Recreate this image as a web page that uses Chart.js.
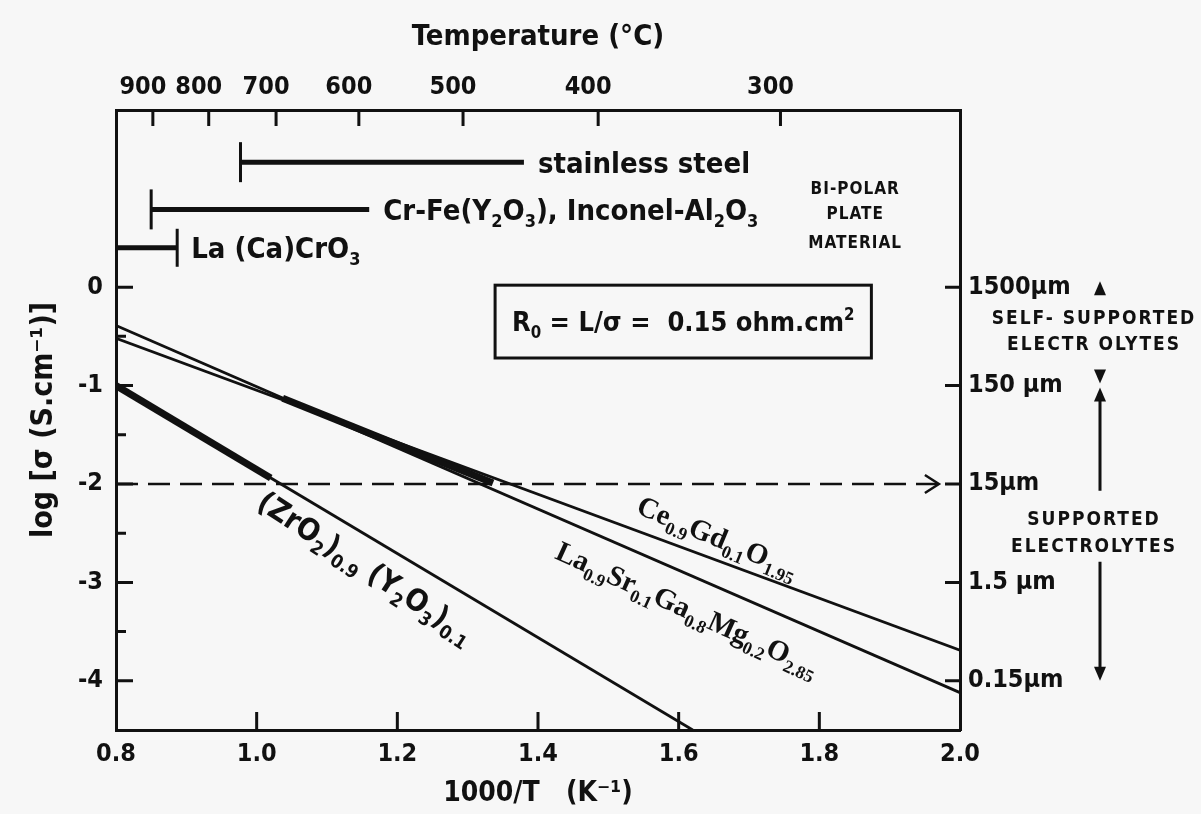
<!DOCTYPE html>
<html>
<head>
<meta charset="utf-8">
<script src="https://cdn.jsdelivr.net/npm/chart.js@4.4.1/dist/chart.umd.min.js"></script>
<style>
  html, body { margin: 0; padding: 0; background: #f7f7f7; }
</style>
</head>
<body>
<canvas id="chart" width="1201" height="814"></canvas>
<script>
// axes
const xTicks = [0.8, 1.0, 1.2, 1.4, 1.6, 1.8, 2.0];
const yTicks = [-4, -3, -2, -1, 0];
const yMinorTicks = [-3.5, -2.5, -1.5, -0.5];
const topTemps = [900, 800, 700, 600, 500, 400, 300];
const thicknessLabels = ['0.15µm', '1.5 µm', '15µm', '150 µm', '1500µm'];

// conductivity lines, log sigma vs 1000/T
const yszX = [0.8, 1.62];
const yszY = [-1.0, -4.5];
const yszThickX = [0.8, 1.02];
const yszThickY = [-1.0, -1.94];
const cgoX = [0.8, 2.0];
const cgoY = [-0.52, -3.69];
const lsgmX = [0.8, 2.0];
const lsgmY = [-0.39, -4.12];
const overlapX = [1.037, 1.336];
const overlapY = [-1.13, -1.99];
const targetX = [0.8, 1.97];
const targetY = [-2, -2];

// bi-polar plate materials
const plateNames = ['stainless steel', 'Cr-Fe(Y_{2}O_{3}), Inconel-Al_{2}O_{3}', 'La (Ca)CrO_{3}'];
const plateFrom = [0.977, 0.85, 0.8];
const plateTo = [1.38, 1.16, 0.887];
const plateLevel = [1.27, 0.79, 0.40];

const ink = '#111';
const SANS = "'DejaVu Sans Condensed', 'Liberation Sans Narrow', 'DejaVu Sans', sans-serif";
const SERIF = "'Liberation Serif', 'DejaVu Serif', serif";
const tickFont = { family: SANS, size: 25, weight: 'bold' };

function pts(xs, ys) {
  return xs.map((v, i) => ({ x: v, y: ys[i] }));
}

function lineSet(xs, ys, width, extra) {
  return Object.assign({
    data: pts(xs, ys),
    borderColor: ink,
    borderWidth: width,
    pointRadius: 0,
    tension: 0,
    fill: false
  }, extra || {});
}

const datasets = [
  lineSet(yszX, yszY, 2.8),
  lineSet(yszThickX, yszThickY, 7),
  lineSet(cgoX, cgoY, 2.8),
  lineSet(lsgmX, lsgmY, 2.8),
  lineSet(overlapX, overlapY, 7),
  lineSet(targetX, targetY, 2.5, { borderDash: [22, 10] })
];

const capAtEnd = [false, false, true];
plateNames.forEach((n, i) => {
  datasets.push(lineSet([plateFrom[i], plateTo[i]], [plateLevel[i], plateLevel[i]], 5, {
    pointRadius: capAtEnd[i] ? [0, 19] : [20, 0],
    pointStyle: 'line',
    rotation: 90,
    pointBorderWidth: 3,
    pointBorderColor: ink,
    pointBackgroundColor: ink
  }));
});

function parseRich(str) {
  const parts = [];
  const re = /([_^])\{([^}]*)\}/g;
  let last = 0, m;
  while ((m = re.exec(str))) {
    if (m.index > last) parts.push({ t: str.slice(last, m.index), mode: '' });
    parts.push({ t: m[2], mode: m[1] });
    last = re.lastIndex;
  }
  if (last < str.length) parts.push({ t: str.slice(last), mode: '' });
  return parts;
}

function drawRich(ctx, str, x, y, opt) {
  const size = opt.size;
  const parts = parseRich(str);
  ctx.save();
  ctx.translate(x, y);
  ctx.rotate(opt.angle || 0);
  ctx.fillStyle = ink;
  ctx.textBaseline = 'alphabetic';
  ctx.textAlign = 'left';
  if (opt.spacing) ctx.letterSpacing = opt.spacing;
  let total = 0;
  parts.forEach(p => {
    p.s = p.mode ? size * 0.62 : size;
    ctx.font = 'bold ' + p.s + 'px ' + opt.family;
    p.w = ctx.measureText(p.t).width;
    total += p.w;
  });
  let cx = opt.align === 'center' ? -total / 2 : 0;
  const base = size * 0.36;
  parts.forEach(p => {
    ctx.font = 'bold ' + p.s + 'px ' + opt.family;
    const dy = p.mode === '_' ? size * 0.24 : (p.mode === '^' ? -size * 0.42 : 0);
    ctx.fillText(p.t, cx, base + dy);
    cx += p.w;
  });
  ctx.restore();
}

function tri(ctx, x, tipY, dir, w, h) {
  ctx.beginPath();
  ctx.moveTo(x, tipY);
  ctx.lineTo(x - w, tipY - dir * h);
  ctx.lineTo(x + w, tipY - dir * h);
  ctx.closePath();
  ctx.fill();
}

const extras = {
  id: 'extras',
  afterDraw(chart) {
    const { ctx, chartArea: a, scales } = chart;
    const x = scales.x, y = scales.y, x2 = scales.x2;
    ctx.save();
    ctx.strokeStyle = ink;
    ctx.fillStyle = ink;
    ctx.lineWidth = 3;
    ctx.lineCap = 'butt';

    // inward tick marks
    ctx.beginPath();
    xTicks.slice(1, -1).forEach(v => {
      const px = x.getPixelForValue(v);
      ctx.moveTo(px, a.bottom); ctx.lineTo(px, a.bottom - 18);
    });
    x2.ticks.forEach(t => {
      const px = x2.getPixelForValue(t.value);
      ctx.moveTo(px, a.top); ctx.lineTo(px, a.top + 16);
    });
    yTicks.forEach(v => {
      const py = y.getPixelForValue(v);
      ctx.moveTo(a.left, py); ctx.lineTo(a.left + 17, py);
      ctx.moveTo(a.right, py); ctx.lineTo(a.right - 15, py);
    });
    yMinorTicks.forEach(v => {
      const py = y.getPixelForValue(v);
      ctx.moveTo(a.left, py); ctx.lineTo(a.left + 10, py);
    });
    ctx.stroke();

    // arrow head on the dashed 15 µm line
    const tx = x.getPixelForValue(targetX[1]), ty = y.getPixelForValue(targetY[1]);
    ctx.lineWidth = 2.5;
    ctx.beginPath();
    ctx.moveTo(tx - 14, ty - 9); ctx.lineTo(tx, ty); ctx.lineTo(tx - 14, ty + 9);
    ctx.stroke();

    // R0 box
    const bx1 = x.getPixelForValue(1.339), bx2 = x.getPixelForValue(1.874);
    const by1 = y.getPixelForValue(0.02), by2 = y.getPixelForValue(-0.72);
    ctx.lineWidth = 3;
    ctx.strokeRect(bx1, by1, bx2 - bx1, by2 - by1);
    drawRich(ctx, 'R_{0} = L/σ =  0.15 ohm.cm^{2}', (bx1 + bx2) / 2, (by1 + by2) / 2,
      { size: 27, family: SANS, align: 'center' });

    // plate material labels
    plateNames.forEach((n, i) => {
      drawRich(ctx, n, x.getPixelForValue(plateTo[i]) + 14, y.getPixelForValue(plateLevel[i]),
        { size: 29, family: SANS });
    });
    ['BI-POLAR', 'PLATE', 'MATERIAL'].forEach((t, i) => {
      drawRich(ctx, t, x.getPixelForValue(1.851), y.getPixelForValue([1.007, 0.753, 0.458][i]),
        { size: 17, family: SANS, align: 'center', spacing: '1px' });
    });

    // line labels, rotated along the lines
    const ang = (xs, ys) => Math.atan2(y.getPixelForValue(ys[1]) - y.getPixelForValue(ys[0]),
      x.getPixelForValue(xs[1]) - x.getPixelForValue(xs[0]));
    drawRich(ctx, '(ZrO_{2})_{0.9} (Y_{2}O_{3})_{0.1}', x.getPixelForValue(1.156), y.getPixelForValue(-2.84),
      { size: 30, family: SANS, align: 'center', angle: ang(yszX, yszY) + 0.04 });
    drawRich(ctx, 'Ce_{0.9}Gd_{0.1}O_{1.95}', x.getPixelForValue(1.656), y.getPixelForValue(-2.53),
      { size: 29, family: SERIF, align: 'center', angle: ang(cgoX, cgoY) + 0.04 });
    drawRich(ctx, 'La_{0.9}Sr_{0.1}Ga_{0.8}Mg_{0.2}O_{2.85}', x.getPixelForValue(1.613), y.getPixelForValue(-3.26),
      { size: 29, family: SERIF, align: 'center', angle: ang(lsgmX, lsgmY) + 0.02 });

    // electrolyte thickness regions on the right
    const cx = a.right + 140;
    const y0 = y.getPixelForValue(0), y1 = y.getPixelForValue(-1), y4 = y.getPixelForValue(-4);
    tri(ctx, cx, y0 - 6, -1, 6, 14);
    tri(ctx, cx, y1 - 2, 1, 6, 14);
    tri(ctx, cx, y1 + 2, -1, 6, 14);
    tri(ctx, cx, y4, 1, 6, 14);
    ctx.lineWidth = 3;
    ctx.beginPath();
    ctx.moveTo(cx, y1 + 14); ctx.lineTo(cx, y.getPixelForValue(-2.07));
    ctx.moveTo(cx, y.getPixelForValue(-2.79)); ctx.lineTo(cx, y4 - 12);
    ctx.stroke();
    const labels = [['SELF- SUPPORTED', -0.31], ['ELECTR OLYTES', -0.57], ['SUPPORTED', -2.35], ['ELECTROLYTES', -2.62]];
    labels.forEach(l => {
      drawRich(ctx, l[0], cx - 6, y.getPixelForValue(l[1]), { size: 19, family: SANS, align: 'center', spacing: '2px' });
    });
    ctx.restore();
  }
};

function fixed(size, horizontal) {
  return s => { if (horizontal) s.height = size; else s.width = size; };
}

const noGrid = { display: false, drawTicks: false };
const frame = { display: true, width: 3, color: ink };

new Chart(document.getElementById('chart'), {
  type: 'line',
  data: { datasets: datasets },
  options: {
    responsive: false,
    animation: false,
    devicePixelRatio: 1,
    layout: { padding: 0 },
    plugins: { legend: { display: false }, tooltip: { enabled: false } },
    scales: {
      x: {
        type: 'linear', position: 'bottom', min: 0.8, max: 2.0,
        grid: noGrid, border: frame,
        afterBuildTicks: s => { s.ticks = xTicks.map(v => ({ value: v })); },
        ticks: { callback: v => v.toFixed(1), font: tickFont, color: ink, padding: 9, maxRotation: 0, autoSkip: false },
        title: { display: true, text: '1000/T   (K⁻¹)', font: { family: SANS, size: 28, weight: 'bold' }, color: ink, padding: { top: 0, bottom: 3 } },
        afterFit: fixed(84, true)
      },
      x2: {
        type: 'linear', position: 'top', min: 0.8, max: 2.0,
        grid: noGrid, border: frame,
        afterBuildTicks: s => { s.ticks = topTemps.map(t => ({ value: 1000 / (t + 273.15) })); },
        ticks: { callback: (v, i) => String(topTemps[i]), font: tickFont, color: ink, padding: 8, labelOffset: -10, maxRotation: 0, autoSkip: false },
        title: { display: true, text: 'Temperature (°C)', font: { family: SANS, size: 29, weight: 'bold' }, color: ink, padding: { top: 20, bottom: 0 } },
        afterFit: fixed(110, true)
      },
      y: {
        type: 'linear', position: 'left', min: -4.5, max: 1.8,
        grid: noGrid, border: frame,
        afterBuildTicks: s => { s.ticks = yTicks.map(v => ({ value: v })); },
        ticks: { callback: v => String(v), font: tickFont, color: ink, padding: 13, autoSkip: false },
        title: { display: true, text: 'log [σ (S.cm⁻¹)]', font: { family: SANS, size: 30, weight: 'bold' }, color: ink, padding: { top: 26, bottom: 0 } },
        afterFit: fixed(116, false)
      },
      y2: {
        type: 'linear', position: 'right', min: -4.5, max: 1.8,
        grid: noGrid, border: frame,
        afterBuildTicks: s => { s.ticks = yTicks.map(v => ({ value: v })); },
        ticks: { callback: (v, i) => thicknessLabels[i], font: tickFont, color: ink, padding: 8, autoSkip: false },
        afterFit: fixed(241, false)
      }
    }
  },
  plugins: [extras]
});
</script>
</body>
</html>
